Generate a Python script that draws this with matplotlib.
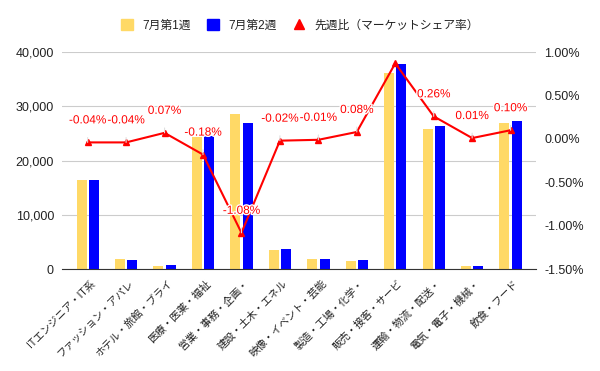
import numpy as np
import matplotlib
matplotlib.use('Agg')
import matplotlib.pyplot as plt
import matplotlib.transforms as mtransforms
import matplotlib.patheffects as pe
from matplotlib.lines import Line2D
from matplotlib.patches import Patch
from matplotlib.ticker import FuncFormatter

plt.rcParams['font.family'] = ['Liberation Sans', 'Noto Sans CJK JP']

# データ
categories = ['ITエンジニア・IT系', 'ファッション・アパレ', 'ホテル・旅館・ブライ', '医療・医薬・福祉',
              '営業・事務・企画・', '建設・土木・エネル', '映像・イベント・芸能', '製造・工場・化学・',
              '販売・接客・サービ', '運輸・物流・配送・', '電気・電子・機械・', '飲食・フード']
week1 = [16400, 1900, 680, 24300, 28600, 3560, 1900, 1530, 36100, 25800, 680, 26900]
week2 = [16450, 1720, 800, 24450, 27000, 3800, 1960, 1720, 37800, 26400, 620, 27300]
share_change = [-0.04, -0.04, 0.07, -0.18, -1.08, -0.02, -0.01, 0.08, 0.87, 0.26, 0.01, 0.10]
show_label = [True, True, True, True, True, True, True, True, False, True, True, True]

yellow = '#FFD966'
blue = '#0000FF'
red = '#FF0000'
txt = '#222222'

fig = plt.figure(figsize=(6, 3.71), dpi=100)
ax = fig.add_axes([0.1038, 0.2741, 0.7895, 0.5857])
ax2 = ax.twinx()

x = np.arange(len(categories))
w = 0.26
ax.bar(x - 0.16, week1, width=w, color=yellow, zorder=2)
ax.bar(x + 0.16, week2, width=w, color=blue, zorder=2)

ax.set_ylim(0, 40000)
ax.set_yticks([0, 10000, 20000, 30000, 40000])
ax.yaxis.set_major_formatter(FuncFormatter(lambda v, p: f'{int(v):,}'))
ax.set_xlim(-0.66, 11.66)
ax.grid(axis='y', color='#cccccc', lw=0.8, zorder=0)
ax.set_axisbelow(True)
for s in ['top', 'right', 'left']:
    ax.spines[s].set_visible(False)
ax.spines['bottom'].set_color('#333333')
ax.tick_params(axis='y', length=0, labelsize=9, labelcolor=txt, pad=6)
ax.tick_params(axis='x', length=0, labelsize=7.5, labelcolor=txt, pad=9)
ax.set_xticks(x)
ax.set_xticklabels(categories, rotation=45, ha='right', va='center', rotation_mode='anchor')
shift = mtransforms.ScaledTranslation(6 / 100, 0, fig.dpi_scale_trans)
for lab in ax.get_xticklabels():
    lab.set_transform(lab.get_transform() + shift)

# 先週比ライン
ax2.plot(x, share_change, color=red, lw=1.5, marker='^', ms=4, zorder=3)
ax2.set_ylim(-1.5, 1.0)
ax2.set_yticks([-1.5, -1.0, -0.5, 0.0, 0.5, 1.0])
ax2.yaxis.set_major_formatter(FuncFormatter(lambda v, p: f'{v:.2f}%'))
for s in ['top', 'right', 'left', 'bottom']:
    ax2.spines[s].set_visible(False)
ax2.tick_params(axis='y', length=0, labelsize=9, labelcolor=txt, pad=6)

for xi, v, show in zip(x, share_change, show_label):
    if not show:
        continue
    ax2.annotate(f'{v:.2f}%', xy=(xi, v), xytext=(0, 22), textcoords='offset pixels',
                 ha='center', va='center', color=red, fontsize=8.5,
                 path_effects=[pe.withStroke(linewidth=2, foreground='white')],
                 arrowprops=dict(arrowstyle='-', color='#e0e0e0', lw=0.8, shrinkA=6, shrinkB=0),
                 zorder=4)

# 凡例
handles = [Patch(color=yellow), Patch(color=blue),
           Line2D([], [], ls='none', marker='^', ms=7, color=red)]
labels = ['7月第1週', '7月第2週', '先週比（マーケットシェア率）']
fig.legend(handles, labels, loc='center', bbox_to_anchor=(0.5, 0.932), ncol=3,
           frameon=False, fontsize=8.5, handlelength=1.0, handleheight=1.0,
           columnspacing=1.4, handletextpad=0.8, labelcolor=txt)

fig.savefig('out.png', dpi=100)
